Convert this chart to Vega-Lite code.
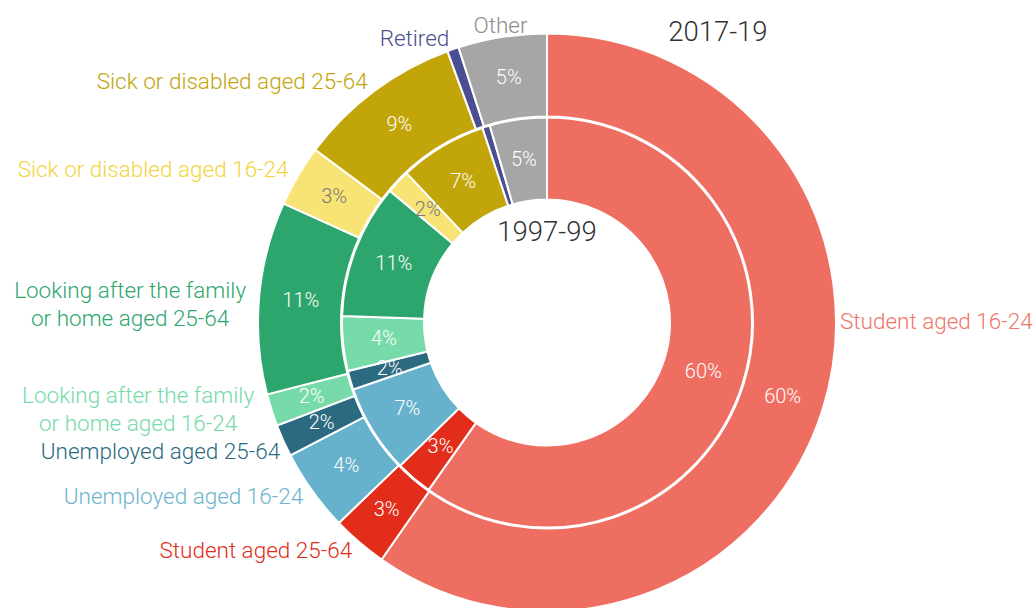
{
  "$schema": "https://vega.github.io/schema/vega-lite/v6.json",
  "width": 974,
  "height": 571,
  "autosize": "none",
  "padding": {"left": 60, "top": 37, "right": 0, "bottom": 0},
  "background": "white",
  "config": {"view": {"stroke": null}, "text": {"font": "Roboto", "fontWeight": 300}},
  "data": {
    "values": [
      {"period": "1997-99", "order": 1, "cat": "Student aged 16-24", "value": 59.8, "pct": "60%"},
      {"period": "1997-99", "order": 2, "cat": "Student aged 25-64", "value": 2.9, "pct": "3%"},
      {"period": "1997-99", "order": 3, "cat": "Unemployed aged 16-24", "value": 7.0, "pct": "7%"},
      {"period": "1997-99", "order": 4, "cat": "Unemployed aged 25-64", "value": 1.5, "pct": "2%"},
      {"period": "1997-99", "order": 5, "cat": "Looking after the family\nor home aged 16-24", "value": 4.3, "pct": "4%"},
      {"period": "1997-99", "order": 6, "cat": "Looking after the family\nor home aged 25-64", "value": 10.6, "pct": "11%"},
      {"period": "1997-99", "order": 7, "cat": "Sick or disabled aged 16-24", "value": 1.9, "pct": "2%"},
      {"period": "1997-99", "order": 8, "cat": "Sick or disabled aged 25-64", "value": 6.9, "pct": "7%"},
      {"period": "1997-99", "order": 9, "cat": "Retired", "value": 0.6, "pct": ""},
      {"period": "1997-99", "order": 10, "cat": "Other", "value": 4.5, "pct": "5%"},
      {"period": "2017-19", "order": 1, "cat": "Student aged 16-24", "value": 59.7, "pct": "60%"},
      {"period": "2017-19", "order": 2, "cat": "Student aged 25-64", "value": 3.1, "pct": "3%"},
      {"period": "2017-19", "order": 3, "cat": "Unemployed aged 16-24", "value": 4.6, "pct": "4%"},
      {"period": "2017-19", "order": 4, "cat": "Unemployed aged 25-64", "value": 1.8, "pct": "2%"},
      {"period": "2017-19", "order": 5, "cat": "Looking after the family\nor home aged 16-24", "value": 1.8, "pct": "2%"},
      {"period": "2017-19", "order": 6, "cat": "Looking after the family\nor home aged 25-64", "value": 10.75, "pct": "11%"},
      {"period": "2017-19", "order": 7, "cat": "Sick or disabled aged 16-24", "value": 3.45, "pct": "3%"},
      {"period": "2017-19", "order": 8, "cat": "Sick or disabled aged 25-64", "value": 9.2, "pct": "9%"},
      {"period": "2017-19", "order": 9, "cat": "Retired", "value": 0.65, "pct": ""},
      {"period": "2017-19", "order": 10, "cat": "Other", "value": 4.95, "pct": "5%"}
    ]
  },
  "layer": [
    {
      "transform": [{"filter": "datum.period === '1997-99'"}],
      "mark": {"type": "arc", "radius": 205, "radius2": 123, "stroke": "white", "strokeWidth": 2},
      "encoding": {
        "theta": {"field": "value", "type": "quantitative", "stack": true},
        "order": {"field": "order", "type": "quantitative"},
        "color": {"field": "cat", "type": "nominal", "legend": null,
          "scale": {
            "domain": ["Student aged 16-24", "Student aged 25-64", "Unemployed aged 16-24", "Unemployed aged 25-64", "Looking after the family\nor home aged 16-24", "Looking after the family\nor home aged 25-64", "Sick or disabled aged 16-24", "Sick or disabled aged 25-64", "Retired", "Other"],
            "range": ["#EE6F62", "#E12D1A", "#66B2CC", "#2B6A80", "#76DAA9", "#2DA66D", "#F8E475", "#C1A509", "#4B4F91", "#A6A6A6"]
          }}
      }
    },
    {
      "transform": [{"filter": "datum.period === '2017-19'"}],
      "mark": {"type": "arc", "radius": 289, "radius2": 206, "stroke": "white", "strokeWidth": 2},
      "encoding": {
        "theta": {"field": "value", "type": "quantitative", "stack": true},
        "order": {"field": "order", "type": "quantitative"},
        "color": {"field": "cat", "type": "nominal", "legend": null,
          "scale": {
            "domain": ["Student aged 16-24", "Student aged 25-64", "Unemployed aged 16-24", "Unemployed aged 25-64", "Looking after the family\nor home aged 16-24", "Looking after the family\nor home aged 25-64", "Sick or disabled aged 16-24", "Sick or disabled aged 25-64", "Retired", "Other"],
            "range": ["#EE6F62", "#E12D1A", "#66B2CC", "#2B6A80", "#76DAA9", "#2DA66D", "#F8E475", "#C1A509", "#4B4F91", "#A6A6A6"]
          }}
      }
    },
    {
      "transform": [{"filter": "datum.period === '1997-99'"}],
      "mark": {"type": "text", "radius": 164, "fontSize": 20, "align": "center", "baseline": "middle"},
      "encoding": {
        "theta": {"field": "value", "type": "quantitative", "stack": true},
        "order": {"field": "order", "type": "quantitative"},
        "text": {"field": "pct"},
        "color": {"condition": {"test": "datum.order === 7", "value": "#7a7a7a"}, "value": "white"}
      }
    },
    {
      "transform": [{"filter": "datum.period === '2017-19'"}],
      "mark": {"type": "text", "radius": 247, "fontSize": 20, "align": "center", "baseline": "middle"},
      "encoding": {
        "theta": {"field": "value", "type": "quantitative", "stack": true},
        "order": {"field": "order", "type": "quantitative"},
        "text": {"field": "pct"},
        "color": {"condition": {"test": "datum.order === 7", "value": "#7a7a7a"}, "value": "white"}
      }
    },
    {
      "transform": [{"filter": "datum.period === '2017-19'"}],
      "mark": {"type": "text", "radius": 300, "fontSize": 22.5, "align": "right", "baseline": "middle"},
      "encoding": {
        "theta": {"field": "value", "type": "quantitative", "stack": true},
        "order": {"field": "order", "type": "quantitative"},
        "text": {"condition": {"test": "datum.order === 2 || datum.order === 3 || datum.order === 7 || datum.order === 8 || datum.order === 9", "field": "cat"}, "value": ""},
        "color": {"field": "cat", "type": "nominal", "legend": null,
          "scale": {
            "domain": ["Student aged 16-24", "Student aged 25-64", "Unemployed aged 16-24", "Unemployed aged 25-64", "Looking after the family\nor home aged 16-24", "Looking after the family\nor home aged 25-64", "Sick or disabled aged 16-24", "Sick or disabled aged 25-64", "Retired", "Other"],
            "range": ["#EE766A", "#E12D1A", "#6EB4CE", "#2B6A80", "#76DAA9", "#2DA66D", "#F3D43E", "#C1A509", "#4B4F91", "#8C8C8C"]
          }}
      }
    },
    {
      "transform": [{"filter": "datum.period === '2017-19'"}],
      "mark": {"type": "text", "radius": 300, "fontSize": 22.5, "align": "right", "baseline": "middle", "dx": 7, "dy": 7},
      "encoding": {
        "theta": {"field": "value", "type": "quantitative", "stack": true},
        "order": {"field": "order", "type": "quantitative"},
        "text": {"condition": {"test": "datum.order === 4", "field": "cat"}, "value": ""},
        "color": {"value": "#2B6A80"}
      }
    },
    {
      "transform": [{"filter": "datum.period === '2017-19'"}],
      "mark": {"type": "text", "radius": 300, "fontSize": 22.5, "align": "center", "baseline": "middle", "dx": -123, "dy": -17, "lineBreak": "\n", "lineHeight": 28},
      "encoding": {
        "theta": {"field": "value", "type": "quantitative", "stack": true},
        "order": {"field": "order", "type": "quantitative"},
        "text": {"condition": {"test": "datum.order === 5", "field": "cat"}, "value": ""},
        "color": {"value": "#76DAA9"}
      }
    },
    {
      "transform": [{"filter": "datum.period === '2017-19'"}],
      "mark": {"type": "text", "radius": 300, "fontSize": 22.5, "align": "center", "baseline": "middle", "dx": -118, "dy": -6, "lineBreak": "\n", "lineHeight": 28},
      "encoding": {
        "theta": {"field": "value", "type": "quantitative", "stack": true},
        "order": {"field": "order", "type": "quantitative"},
        "text": {"condition": {"test": "datum.order === 6", "field": "cat"}, "value": ""},
        "color": {"value": "#2DA66D"}
      }
    },
    {
      "transform": [{"filter": "datum.period === '2017-19'"}],
      "mark": {"type": "text", "radius": 300, "fontSize": 22.5, "align": "center", "baseline": "middle"},
      "encoding": {
        "theta": {"field": "value", "type": "quantitative", "stack": true},
        "order": {"field": "order", "type": "quantitative"},
        "text": {"condition": {"test": "datum.order === 10", "field": "cat"}, "value": ""},
        "color": {"value": "#8C8C8C"}
      }
    },
    {
      "transform": [{"filter": "datum.period === '2017-19'"}],
      "mark": {"type": "text", "radius": 293, "thetaOffset": -0.305, "fontSize": 22.5, "align": "left", "baseline": "middle"},
      "encoding": {
        "theta": {"field": "value", "type": "quantitative", "stack": true},
        "order": {"field": "order", "type": "quantitative"},
        "text": {"condition": {"test": "datum.order === 1", "field": "cat"}, "value": ""},
        "color": {"value": "#EE766A"}
      }
    },
    {
      "data": {"values": [{"ring": "2017-19"}]},
      "mark": {"type": "text", "theta": 0.5335, "radius": 336, "fontSize": 27.5, "align": "center", "baseline": "middle", "color": "#333333"},
      "encoding": {"text": {"field": "ring"}}
    },
    {
      "data": {"values": [{"ring": "1997-99"}]},
      "mark": {"type": "text", "theta": 0, "radius": 89.5, "fontSize": 27.5, "align": "center", "baseline": "middle", "color": "#333333"},
      "encoding": {"text": {"field": "ring"}}
    }
  ],
  "resolve": {"scale": {"theta": "independent", "color": "independent"}}
}
